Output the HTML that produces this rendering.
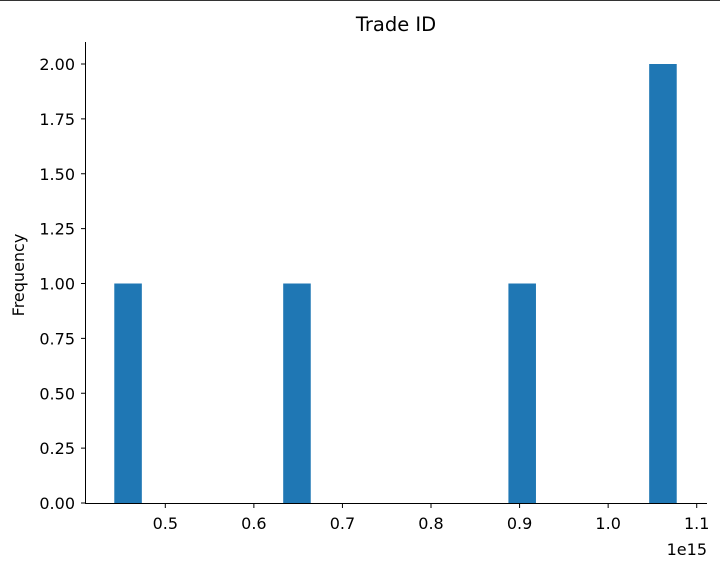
<!DOCTYPE html>
<html><head><meta charset="utf-8"><style>
body{margin:0;background:#fff;width:720px;height:568px;overflow:hidden}
svg{display:block;font-family:"DejaVu Sans","Liberation Sans",sans-serif}
</style></head><body>
<svg id="c" width="720" height="568">
<line x1="0" y1="0.5" x2="720" y2="0.5" stroke="#333"/>
<text x="396" y="31" font-size="19.5" text-anchor="middle" fill="#000">Trade ID</text>
<text transform="translate(24,275) rotate(-90)" font-size="16" text-anchor="middle">Frequency</text>
<text x="707" y="555" font-size="16" text-anchor="end">1e15</text>
<g id="bars"></g><g id="ticks"></g>
<line x1="85.5" y1="42" x2="85.5" y2="503.5" stroke="#000"/>
<line x1="85" y1="503.5" x2="707" y2="503.5" stroke="#000"/>
</svg>
<script>
const tradeIds = [0.4424, 0.65, 0.9, 1.06, 1.0781];
const binCount = 20;
const xTicks = [0.5, 0.6, 0.7, 0.8, 0.9, 1.0, 1.1];
const xTickLabels = ["0.5","0.6","0.7","0.8","0.9","1.0","1.1"];
const yTicks = [0, 0.25, 0.5, 0.75, 1, 1.25, 1.5, 1.75, 2];
const yTickLabels = ["0.00","0.25","0.50","0.75","1.00","1.25","1.50","1.75","2.00"];
const NS="http://www.w3.org/2000/svg";
const X=v=>165.3+(v-0.5)*885.7;
const Y=v=>503-v*219.5;
const mn=Math.min(...tradeIds), mx=Math.max(...tradeIds), w=(mx-mn)/binCount;
const counts=new Array(binCount).fill(0);
tradeIds.forEach(v=>{let i=Math.floor((v-mn)/w);if(i>=binCount)i=binCount-1;counts[i]++;});
const bars=document.getElementById('bars'), ticks=document.getElementById('ticks');
counts.forEach((c,i)=>{ if(!c) return;
 const r=document.createElementNS(NS,'rect');
 const x0=X(mn+i*w), x1=X(mn+(i+1)*w);
 r.setAttribute('x',x0);r.setAttribute('width',x1-x0-0.6);
 r.setAttribute('y',Y(c));r.setAttribute('height',Y(0)-Y(c));
 r.setAttribute('fill','#1f77b4');
 
 
 bars.appendChild(r);});
xTicks.forEach((t,i)=>{
 const l=document.createElementNS(NS,'line');
 l.setAttribute('x1',X(t));l.setAttribute('x2',X(t));l.setAttribute('y1',503);l.setAttribute('y2',508);l.setAttribute('stroke','#000');
 
 
 ticks.appendChild(l);
 const tx=document.createElementNS(NS,'text');
 tx.setAttribute('x',X(t));tx.setAttribute('y',529);tx.setAttribute('font-size','16');tx.setAttribute('text-anchor','middle');
 tx.textContent=xTickLabels[i];
 
 
 ticks.appendChild(tx);});
yTicks.forEach((t,i)=>{
 const l=document.createElementNS(NS,'line');
 l.setAttribute('x1',81);l.setAttribute('x2',86);l.setAttribute('y1',Y(t));l.setAttribute('y2',Y(t));l.setAttribute('stroke','#000');
 
 
 ticks.appendChild(l);
 const tx=document.createElementNS(NS,'text');
 tx.setAttribute('x',75);tx.setAttribute('y',Y(t)+6);tx.setAttribute('font-size','16');tx.setAttribute('text-anchor','end');
 tx.textContent=yTickLabels[i];
 
 
 ticks.appendChild(tx);});
</script>
</body></html>
